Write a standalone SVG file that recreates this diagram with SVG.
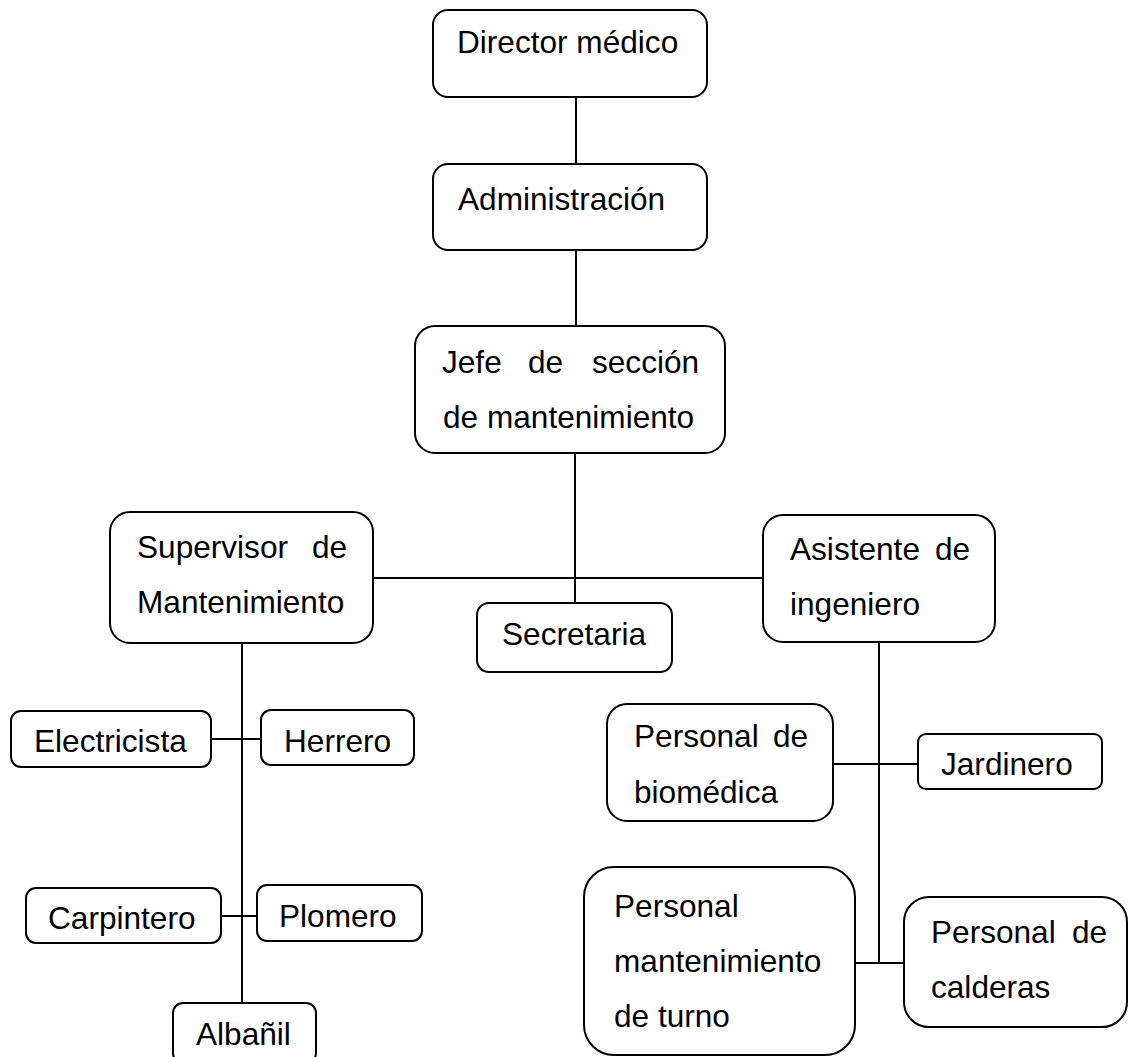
<svg xmlns="http://www.w3.org/2000/svg" width="1129" height="1057" viewBox="0 0 1129 1057">
<style>
.b{fill:#fff;stroke:#000;stroke-width:2}
.t{font-family:"Liberation Sans",Arial,sans-serif;font-size:31.6px;fill:#000}
.c{stroke:#000;stroke-width:2;fill:none}
</style>
<rect width="1129" height="1057" fill="#fff"/>
<g id="connectors">
<line class="c" x1="576" y1="97" x2="576" y2="164"/>
<line class="c" x1="576" y1="250" x2="576" y2="326"/>
<line class="c" x1="575" y1="453" x2="575" y2="603"/>
<line class="c" x1="373" y1="578" x2="763" y2="578"/>
<line class="c" x1="242" y1="643" x2="242" y2="1003"/>
<line class="c" x1="211" y1="739" x2="261" y2="739"/>
<line class="c" x1="221" y1="916" x2="257" y2="916"/>
<line class="c" x1="879" y1="642" x2="879" y2="963"/>
<line class="c" x1="833" y1="764" x2="918" y2="764"/>
<line class="c" x1="855" y1="963" x2="903" y2="963"/>
</g>
<g id="director"><rect class="b" x="433" y="10" width="274" height="87" rx="15"/><text class="t" x="457" y="53">Director médico</text></g>
<g id="administracion"><rect class="b" x="433" y="164" width="274" height="86" rx="15"/><text class="t" x="458" y="210">Administración</text></g>
<g id="jefe"><rect class="b" x="415" y="326" width="310" height="127" rx="20"/><text class="t" y="373"><tspan x="442">Jefe</tspan><tspan x="528">de</tspan><tspan x="592">sección</tspan></text><text class="t" x="443" y="428">de mantenimiento</text></g>
<g id="supervisor"><rect class="b" x="110" y="512" width="263" height="131" rx="20"/><text class="t" y="558"><tspan x="137">Supervisor</tspan><tspan x="312">de</tspan></text><text class="t" x="137" y="613">Mantenimiento</text></g>
<g id="asistente"><rect class="b" x="763" y="515" width="232" height="127" rx="20"/><text class="t" y="560"><tspan x="790">Asistente</tspan><tspan x="935">de</tspan></text><text class="t" x="790" y="615">ingeniero</text></g>
<g id="secretaria"><rect class="b" x="477" y="603" width="195" height="69" rx="12"/><text class="t" x="502" y="645">Secretaria</text></g>
<g id="electricista"><rect class="b" x="11" y="711" width="200" height="56" rx="10"/><text class="t" x="34" y="752">Electricista</text></g>
<g id="herrero"><rect class="b" x="261" y="710" width="153" height="55" rx="10"/><text class="t" x="284" y="752">Herrero</text></g>
<g id="carpintero"><rect class="b" x="26" y="888" width="195" height="55" rx="10"/><text class="t" x="48" y="929">Carpintero</text></g>
<g id="plomero"><rect class="b" x="257" y="885" width="165" height="56" rx="10"/><text class="t" x="279" y="927">Plomero</text></g>
<g id="albanil"><rect class="b" x="173" y="1003" width="143" height="60" rx="10"/><text class="t" x="196" y="1045">Albañil</text></g>
<g id="biomedica"><rect class="b" x="607" y="704" width="226" height="117" rx="20"/><text class="t" y="747"><tspan x="634">Personal</tspan><tspan x="773">de</tspan></text><text class="t" x="634" y="803">biomédica</text></g>
<g id="jardinero"><rect class="b" x="918" y="734" width="184" height="55" rx="8"/><text class="t" x="941" y="775">Jardinero</text></g>
<g id="turno"><rect class="b" x="584" y="867" width="271" height="188" rx="30"/><text class="t" x="614" y="917">Personal</text><text class="t" x="614" y="972">mantenimiento</text><text class="t" x="614" y="1027">de turno</text></g>
<g id="calderas"><rect class="b" x="904" y="897" width="223" height="130" rx="25"/><text class="t" y="943"><tspan x="931">Personal</tspan><tspan x="1072">de</tspan></text><text class="t" x="931" y="998">calderas</text></g>
</svg>
